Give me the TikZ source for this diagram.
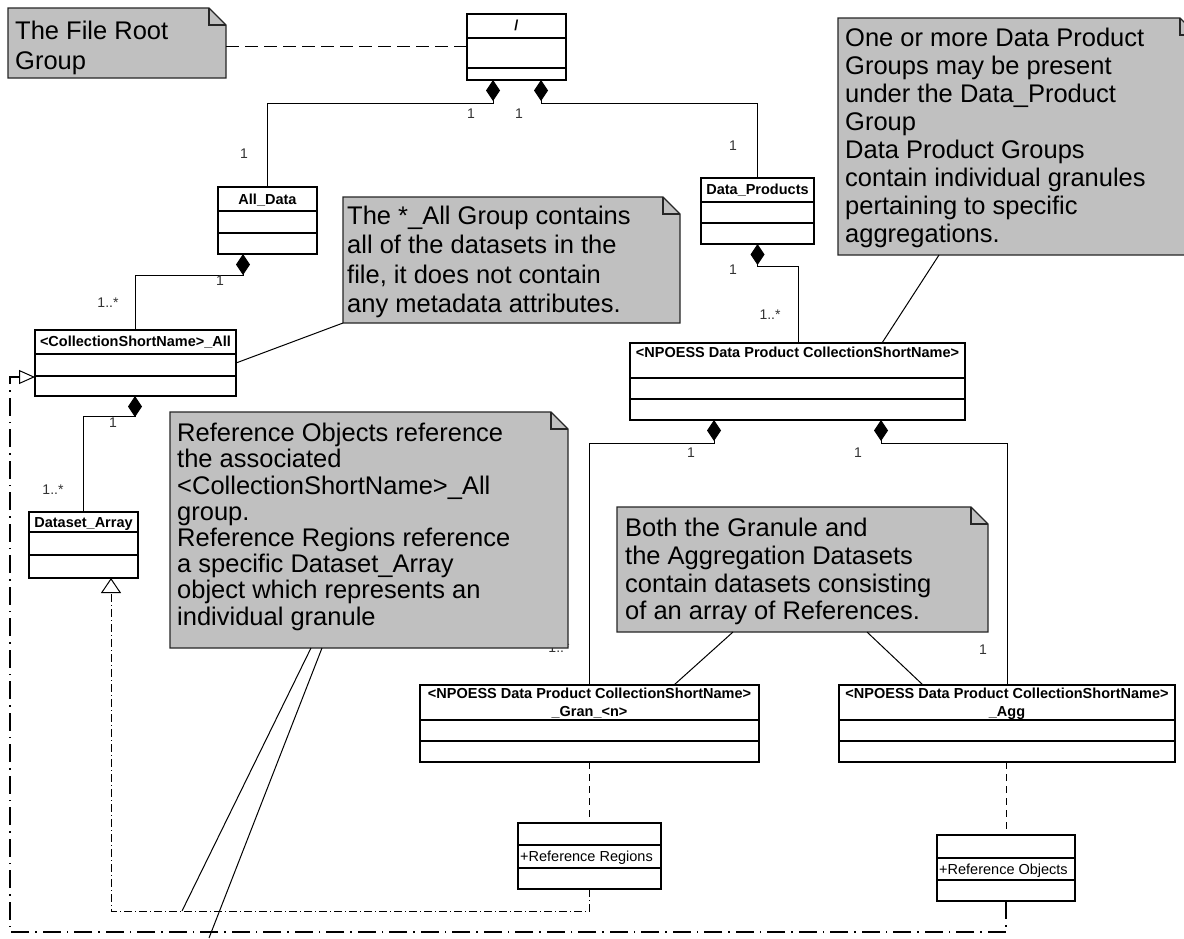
\documentclass[tikz,border=0pt]{standalone}
\usepackage{fontspec}
\setmainfont{Liberation Sans}
\usetikzlibrary{arrows.meta,calc}

\definecolor{notegray}{RGB}{192,192,192}

\tikzset{
  classbox/.style={draw=black, line width=1.1pt, fill=white, inner sep=0pt, outer sep=0pt, anchor=north west},
  notearea/.style={inner sep=0pt, outer sep=0pt, anchor=north west},
  noteshape/.style={fill=notegray, draw=black!85, line width=1.3pt, line join=miter},
  notefold/.style={draw=black!85, line width=1.1pt},
  notetext/.style={anchor=north west, inner sep=0pt, align=left},
  cltitle/.style={inner sep=0pt, anchor=base, font=\fontsize{14.5}{18}\selectfont\bfseries},
  clattr/.style={inner sep=0pt, anchor=base west, font=\fontsize{14.5}{18}\selectfont},
  mult/.style={inner sep=0pt, font=\fontsize{14}{16}\selectfont, text=black!80},
  assoc/.style={draw=black, line width=1pt},
  compo/.style={assoc, {Diamond[length=21pt,width=14pt]}-},
  depend/.style={draw=black, line width=1pt, dash pattern=on 7pt off 5pt},
  notelink/.style={draw=black, line width=1pt, dash pattern=on 13pt off 6pt},
  realize/.style={draw=black, line width=1pt, dash pattern=on 8pt off 3pt on 1pt off 3pt,
    -{Triangle[open,length=15pt,width=20pt]}},
  realizebold/.style={draw=black, line width=1.6pt, dash pattern=on 18pt off 6pt on 1.5pt off 6pt,
    -{Triangle[open,length=16pt,width=14pt,line width=1pt]}},
}

% class box: name, x1, y1, x2, y2, first divider, second divider
\newcommand{\umlclass}[7]{%
  \node[classbox, minimum width={(#4-#2)*1pt}, minimum height={(#5-#3)*1pt}] (#1) at (#2,#3) {};
  \draw[line width=1.1pt] (#2,#6) -- (#4,#6) (#2,#7) -- (#4,#7);
}

% note with folded corner: name, x1, y1, x2, y2
\newcommand{\umlnote}[5]{%
  \node[notearea, minimum width={(#4-#2)*1pt}, minimum height={(#5-#3)*1pt}] (#1) at (#2,#3) {};
  \path[noteshape] (#1.north west) -- ([xshift=-17pt]#1.north east) -- ([yshift=-17pt]#1.north east)
    -- (#1.south east) -- (#1.south west) -- cycle;
  \draw[notefold] ([xshift=-17pt]#1.north east) -- ([xshift=-17pt,yshift=-17pt]#1.north east)
    -- ([yshift=-17pt]#1.north east);
}

\begin{document}
\begin{tikzpicture}[x=1pt,y=-1pt]
\useasboundingbox (0,0) rectangle (1184,938);
\clip (0,0) rectangle (1184,938);
\fill[white] (0,0) rectangle (1184,938);

% ---- classes ----
\umlclass{root}{467}{14}{566}{80}{38}{68}
\node[cltitle] (root-t) at (516.5,30) {/};
\umlclass{alldata}{218}{187}{317}{254}{211}{233}
\node[cltitle] (alldata-t) at (267.5,204) {All\_Data};
\umlclass{dprod}{701}{178}{814}{244}{202}{223}
\node[cltitle] (dprod-t) at (757.5,194) {Data\_Products};
\umlclass{csnall}{35}{330}{236}{396}{354}{376}
\node[cltitle] (csnall-t) at (135.5,346) {<CollectionShortName>\_All};
\umlclass{dsarr}{29}{512}{138}{578}{532}{555}
\node[cltitle] (dsarr-t) at (83.5,527) {Dataset\_Array};
\umlclass{npoess}{630}{343}{965}{420}{378}{399}
\node[cltitle] (npoess-t) at (797.5,357) {<NPOESS Data Product CollectionShortName>};
\umlclass{gran}{420}{685}{759}{762}{720}{741}
\node[cltitle] (gran-t1) at (589.5,698) {<NPOESS Data Product CollectionShortName>};
\node[cltitle] (gran-t2) at (589.5,716) {\_Gran\_<n>};
\umlclass{agg}{839}{685}{1175}{762}{720}{741}
\node[cltitle] (agg-t1) at (1007,698) {<NPOESS Data Product CollectionShortName>};
\node[cltitle] (agg-t2) at (1007,716) {\_Agg};
\umlclass{refreg}{518}{823}{661}{889}{845}{868}
\node[clattr] (refreg-a) at (520,861) {+Reference Regions};
\umlclass{refobj}{937}{835}{1075}{901}{858}{880}
\node[clattr] (refobj-a) at (939,874) {+Reference Objects};

% ---- compositions ----
\draw[compo] ([xshift=26pt]root.south west) -- ++(0,23) -| (alldata.north);
\draw[compo] ([xshift=74pt]root.south west) -- ++(0,23) -| (dprod.north);
\draw[compo] ([xshift=25pt]alldata.south west) -- ++(0,21) -| ([xshift=100pt]csnall.north west);
\draw[compo] ([xshift=100pt]csnall.south west) -- ++(0,20) -| (dsarr.north);
\draw[compo] (dprod.south) -- ++(0,22) -| ([xshift=168pt]npoess.north west);
\draw[compo] ([xshift=84pt]npoess.south west) -- ++(0,23) -| ([xshift=169pt]gran.north west);
\draw[compo] ([xshift=251pt]npoess.south west) -- ++(0,23) -| ([xshift=168pt]agg.north west);

% ---- dependencies and realizations ----
\draw[depend] (refreg.north |- gran.south) -- (refreg.north);
\draw[depend] (refobj.north |- agg.south) -- (refobj.north);
\coordinate (innerturn) at (111,911);
\coordinate (outerturn) at (10,932);
\draw[realize] (refreg.south) |- (innerturn) -- ([xshift=82pt]dsarr.south west);
\draw[realizebold] (refobj.south) |- (outerturn) |- ([yshift=-47pt]csnall.north west);

% ---- multiplicities ----
\node[mult] (m1) at (471,114) {1};
\node[mult] (m2) at (519,114) {1};
\node[mult] (m3) at (244,154) {1};
\node[mult] (m4) at (733,146) {1};
\node[mult] (m5) at (220,281) {1};
\node[mult] (m6) at (108,303) {1..*};
\node[mult] (m7) at (733,270) {1};
\node[mult] (m8) at (770,315) {1..*};
\node[mult] (m9) at (113,423) {1};
\node[mult] (m10) at (53,490) {1..*};
\node[mult] (m11) at (691,453) {1};
\node[mult] (m12) at (858,453) {1};
\node[mult] (m13) at (983,650) {1};
\node[mult] (m14) at (559,648) {1..*};

% ---- notes ----
\umlnote{rootnote}{8}{8}{226}{78}
\node[notetext, font=\fontsize{25.5}{30}\selectfont] (rootnote-t) at (15,21) {The File Root\\Group};

\umlnote{dpnote}{838}{18}{1197}{255}
\node[notetext, font=\fontsize{25.5}{28}\selectfont] (dpnote-t) at (845,28)
  {One or more Data Product\\Groups may be present\\under the Data\_Product\\Group\\Data Product Groups\\contain individual granules\\pertaining to specific\\aggregations.};

\umlnote{allnote}{343}{197}{680}{323}
\node[notetext, font=\fontsize{25.5}{29.3}\selectfont] (allnote-t) at (347,206)
  {The *\_All Group contains\\all of the datasets in the\\file, it does not contain\\any metadata attributes.};

\umlnote{bothnote}{617}{507}{988}{632}
\node[notetext, font=\fontsize{25.5}{27.7}\selectfont] (bothnote-t) at (625,518)
  {Both the Granule and\\the Aggregation Datasets\\contain datasets consisting\\of an array of References.};

\umlnote{refnote}{170}{412}{568}{648}
\node[notetext, font=\fontsize{25.5}{26.2}\selectfont] (refnote-t) at (177,423)
  {Reference Objects reference\\the associated\\<CollectionShortName>\_All\\group.\\Reference Regions reference\\a specific Dataset\_Array\\object which represents an\\individual granule};

% ---- note attachments ----
\draw[notelink] ($(rootnote.east)+(0,3)$) -- ($(rootnote.east -| root.west)+(0,3)$);
\draw[assoc] (allnote.south west) -- ([yshift=-33pt]csnall.north east);
\draw[assoc] ([xshift=101pt]dpnote.south west) -- ([xshift=252pt]npoess.north west);
\draw[assoc] ([xshift=116pt]bothnote.south west) -- ([xshift=254pt]gran.north west);
\draw[assoc] ([xshift=250pt]bothnote.south west) -- ([xshift=84pt]agg.north west);
\coordinate (hitA) at (182,911);
\coordinate (hitB) at (209,938);
\draw[assoc] ([xshift=141pt]refnote.south west) -- (hitA);
\draw[assoc] ([xshift=152pt]refnote.south west) -- (hitB);
\end{tikzpicture}
\end{document}
